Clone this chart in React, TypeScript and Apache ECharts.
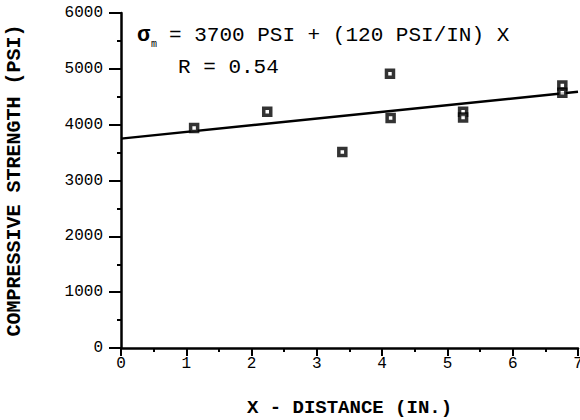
import React, { useEffect, useRef } from "react";
import * as echarts from "echarts";

const distances = [1.12, 2.24, 3.39, 4.12, 4.13, 5.24, 5.24, 6.76, 6.76];
const strengths = [3940, 4230, 3510, 4910, 4120, 4230, 4130, 4700, 4570];
const fitX = [0, 7];
const fitY = [3750, 4590];
const xTitle = "X - DISTANCE (IN.)";
const yTitle = "COMPRESSIVE STRENGTH (PSI)";
const eqText = "= 3700 PSI + (120 PSI/IN) X";
const rText = "R = 0.54";

const MONO = "'Liberation Mono', 'DejaVu Sans Mono', monospace";

export default function App() {
  const ref = useRef<HTMLDivElement>(null);
  useEffect(() => {
    document.body.style.margin = "0";
    const chart = echarts.init(ref.current!, null, { renderer: "svg" });
    const points = distances.map((d, i) => [d, strengths[i]]);
    const fit = fitX.map((x, i) => [x, fitY[i]]);
    chart.setOption({
      animation: false,
      backgroundColor: "#fff",
      grid: { left: 121, right: 2, top: 13, bottom: 72, containLabel: false, outerBoundsMode: "none" },
      xAxis: {
        type: "value",
        min: 0,
        max: 7,
        interval: 1,
        name: xTitle,
        nameLocation: "middle",
        nameGap: 50,
        nameTextStyle: { fontFamily: MONO, fontSize: 19, fontWeight: "bold", color: "#000" },
        axisLine: { show: true, onZero: false, lineStyle: { color: "#000", width: 2.5 } },
        axisTick: { show: true, inside: false, length: 8, lineStyle: { color: "#000", width: 2 } },
        minorTick: { show: true, splitNumber: 2, length: 4, lineStyle: { color: "#000", width: 2 } },
        axisLabel: { fontFamily: MONO, fontSize: 16, color: "#000", margin: 8, formatter: (v: number) => String(v) },
        splitLine: { show: false },
      },
      yAxis: {
        type: "value",
        min: 0,
        max: 6000,
        interval: 1000,
        name: yTitle,
        nameLocation: "middle",
        nameGap: 97,
        nameTextStyle: { fontFamily: MONO, fontSize: 20, fontWeight: "bold", color: "#000" },
        axisLine: { show: true, lineStyle: { color: "#000", width: 2.5 } },
        axisTick: { show: true, inside: false, length: 12, lineStyle: { color: "#000", width: 2 } },
        minorTick: { show: true, splitNumber: 2, length: 4, lineStyle: { color: "#000", width: 2 } },
        axisLabel: { fontFamily: MONO, fontSize: 16, color: "#000", margin: 18, formatter: (v: number) => String(v) },
        splitLine: { show: false },
      },
      series: [
        {
          type: "line",
          data: fit,
          showSymbol: false,
          symbol: "none",
          lineStyle: { color: "#000", width: 2.5 },
          z: 2,
        },
        {
          type: "scatter",
          data: points,
          symbol: "rect",
          symbolSize: 7,
          itemStyle: { color: "#fff", borderColor: "#000", borderWidth: 3.5 },
          z: 3,
        },
      ],
      graphic: [
        {
          type: "text",
          left: 137,
          top: 24,
          style: { text: "σ", fontFamily: MONO, fontSize: 22, fontWeight: "bold", fill: "#000" },
        },
        {
          type: "text",
          left: 151,
          top: 39,
          style: { text: "m", fontFamily: MONO, fontSize: 10, fill: "#000" },
        },
        {
          type: "text",
          left: 169,
          top: 25,
          style: { text: eqText, fontFamily: MONO, fontSize: 21, fill: "#000" },
        },
        {
          type: "text",
          left: 178,
          top: 57,
          style: { text: rText, fontFamily: MONO, fontSize: 21, fill: "#000" },
        },
      ],
    });
    return () => chart.dispose();
  }, []);
  return <div ref={ref} style={{ width: 580, height: 420 }} />;
}
